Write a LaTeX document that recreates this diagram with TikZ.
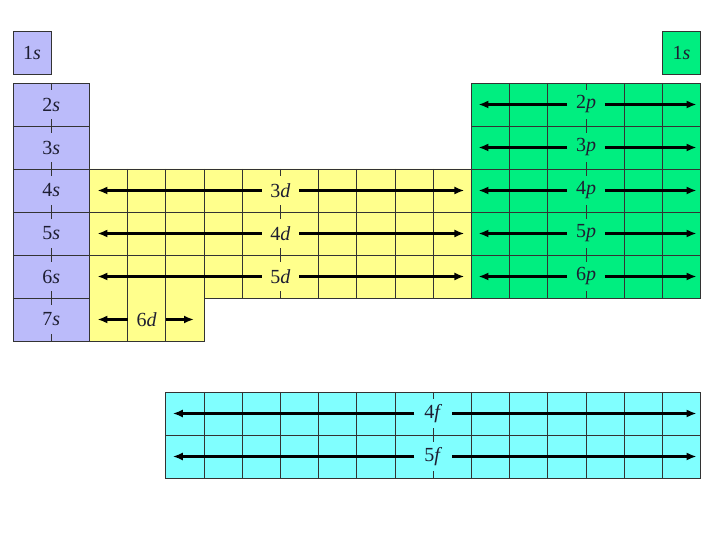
\documentclass[tikz,border=0pt]{standalone}
\usepackage{fontspec}
\setmainfont{Liberation Serif}
\usetikzlibrary{arrows.meta}

\definecolor{sblock}{RGB}{187,187,250}
\definecolor{dblock}{RGB}{255,255,140}
\definecolor{pblock}{RGB}{0,238,128}
\definecolor{fblock}{RGB}{128,255,255}
\definecolor{ink}{RGB}{30,30,50}

\tikzset{
  cellgrid/.style={draw=black!80, line width=0.7pt},
  cellbox/.style={cellgrid, minimum width=38.2pt, minimum height=43pt, inner sep=0pt,
    font=\fontsize{20}{20}\selectfont, text=ink},
  orb/.style={minimum width=37pt, minimum height=29pt, inner sep=0pt,
    font=\fontsize{20}{20}\selectfont, text=ink},
  arr/.style={-{Latex[length=10pt,width=8pt]}, line width=2.6pt}
}

\begin{document}
\begin{tikzpicture}[x=38.2pt, y=-43pt, semithick]
  \useasboundingbox (-0.3403,-1.930) rectangle (18.508,10.628);

  % first period
  \node[cellbox, fill=sblock] (s1)  at (0.5,-0.709)  {1\textit{s}};
  \node[cellbox, fill=pblock] (s1r) at (17.5,-0.709) {1\textit{s}};

  % s block
  \fill[sblock] (0,0) rectangle (2,6);
  \draw[cellgrid] (1,0) -- (1,6);
  \foreach \row in {1,...,5} \draw[cellgrid] (0,\row) -- (2,\row);
  \draw[cellgrid] (0,0) rectangle (2,6);

  % d block
  \fill[dblock] (2,2) rectangle (12,5) (2,5) rectangle (5,6);
  \foreach \col in {3,...,11} \draw[cellgrid] (\col,2) -- (\col,5);
  \foreach \col in {3,4} \draw[cellgrid] (\col,5) -- (\col,6);
  \foreach \row in {3,4} \draw[cellgrid] (2,\row) -- (12,\row);
  \draw[cellgrid] (2,2) -- (12,2) -- (12,5) -- (5,5) -- (5,6) -- (2,6) -- cycle;

  % p block
  \fill[pblock] (12,0) rectangle (18,5);
  \foreach \col in {13,...,17} \draw[cellgrid] (\col,0) -- (\col,5);
  \foreach \row in {1,...,4} \draw[cellgrid] (12,\row) -- (18,\row);
  \draw[cellgrid] (12,0) rectangle (18,5);

  % f block
  \fill[fblock] (4,7.186) rectangle (18,9.186);
  \foreach \col in {5,...,17} \draw[cellgrid] (\col,7.186) -- (\col,9.186);
  \draw[cellgrid] (4,8.186) -- (18,8.186);
  \draw[cellgrid] (4,7.186) rectangle (18,9.186);

  % labels
  \foreach \n [count=\row from 0] in {2,...,7}
    \node[orb, fill=sblock] (s\n) at (1,\row+0.5) {\n\textit{s}};

  \foreach \n [count=\row from 2] in {3,4,5} {
    \node[orb, fill=dblock] (d\n) at (7,\row+0.5) {\n\textit{d}};
    \coordinate (dl\n) at ([xshift=8pt]2,\row+0.5);
    \coordinate (dr\n) at ([xshift=-7pt]12,\row+0.5);
    \draw[arr] (d\n) -- (dl\n);
    \draw[arr] (d\n) -- (dr\n);
  }

  \node[orb] (d6) at (3.5,5.5) {6\textit{d}};
  \coordinate (dl6) at ([xshift=8pt]2,5.5);
  \coordinate (dr6) at ([xshift=-10pt]5,5.5);
  \draw[arr] (d6) -- (dl6);
  \draw[arr] (d6) -- (dr6);

  \foreach \n [count=\row from 0] in {2,...,6} {
    \node[orb, fill=pblock] (p\n) at (15,\row+0.5) {\n\textit{p}};
    \coordinate (pl\n) at ([xshift=7pt]12,\row+0.5);
    \coordinate (pr\n) at ([xshift=-4pt]18,\row+0.5);
    \draw[arr] (p\n) -- (pl\n);
    \draw[arr] (p\n) -- (pr\n);
  }

  \foreach \n [count=\row from 0] in {4,5} {
    \node[orb, fill=fblock] (f\n) at (11,7.686+\row) {\n\textit{f}};
    \coordinate (fl\n) at ([xshift=7pt]4,7.686+\row);
    \coordinate (fr\n) at ([xshift=-4pt]18,7.686+\row);
    \draw[arr] (f\n) -- (fl\n);
    \draw[arr] (f\n) -- (fr\n);
  }
\end{tikzpicture}
\end{document}
